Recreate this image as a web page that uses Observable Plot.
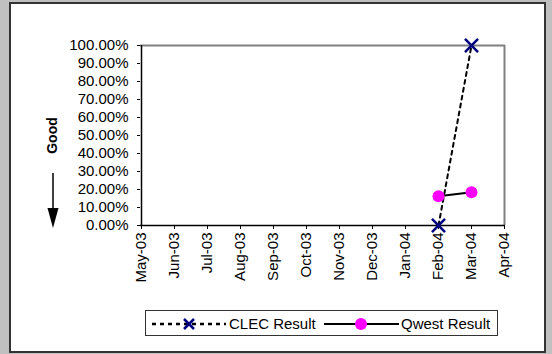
<!DOCTYPE html>
<html><head><meta charset="utf-8">
<script src="https://cdn.jsdelivr.net/npm/d3@7"></script>
<script src="https://cdn.jsdelivr.net/npm/@observablehq/plot@0.6"></script>
<style>
body{margin:0;background:#c0c0c0;}
#wrap{position:relative;width:552px;height:354px;background:#c0c0c0;overflow:hidden;font-family:"Liberation Sans",Arial,sans-serif;}
#panel{position:absolute;left:9px;top:2px;width:533px;height:347px;background:#fff;border:2px solid #333;}
#chart{position:absolute;left:0;top:0;}
#deco{position:absolute;left:0;top:0;}
#legend{position:absolute;left:145px;top:310px;width:351px;height:24px;border:1px solid #333;background:#fff;}
</style>
</head><body>
<div id="wrap"><div id="panel"></div><div id="chart"></div><svg id="deco" width="552" height="354"></svg><div id="legend"></div></div>
<script>
const monthLabels = ["May-03","Jun-03","Jul-03","Aug-03","Sep-03","Oct-03","Nov-03","Dec-03","Jan-04","Feb-04","Mar-04","Apr-04"];
const yTicks = [0,0.1,0.2,0.3,0.4,0.5,0.6,0.7,0.8,0.9,1.0];
const clecMonths = ["Feb-04","Mar-04"];
const clecValues = [0.0, 1.0];
const qwestMonths = ["Feb-04","Mar-04"];
const qwestValues = [0.163, 0.185];
const seriesNames = ["CLEC Result","Qwest Result"];
const axisTitle = "Good";

const clec = clecMonths.map((m,i)=>({month:m, value:clecValues[i]}));
const qwest = qwestMonths.map((m,i)=>({month:m, value:qwestValues[i]}));

const font = "Liberation Sans, Arial, sans-serif";
const chart = Plot.plot({
  width: 552, height: 354,
  marginLeft: 140, marginRight: 47, marginTop: 45, marginBottom: 129,
  style: {background:"transparent", fontFamily: font, fontSize:"15px", color:"#000"},
  x: {type:"point", domain: monthLabels, padding: 0, label: null, tickRotate: -90, tickSize: 4, tickPadding: 3},
  y: {domain:[0,1], ticks: yTicks, tickFormat: d3.format(".2%"), label: null, tickSize: 3, tickPadding: 9},
  marks: [
    Plot.ruleY([1], {stroke:"#808080", strokeWidth:2}),
    Plot.ruleX([monthLabels[monthLabels.length-1]], {stroke:"#808080", strokeWidth:2}),
    Plot.ruleX([monthLabels[0]], {stroke:"#000", strokeWidth:1.5}),
    Plot.ruleY([0], {stroke:"#000", strokeWidth:1.5}),
    Plot.line(clec, {x:"month", y:"value", stroke:"#000", strokeWidth:2, strokeDasharray:"4,4"}),
    Plot.line(qwest, {x:"month", y:"value", stroke:"#000", strokeWidth:2}),
    Plot.dot(qwest, {x:"month", y:"value", fill:"#ff00ff", r:6}),
    Plot.dot(clec, {x:"month", y:"value", symbol:"times", stroke:"#000080", strokeWidth:2.5, r:6}),
    Plot.text([axisTitle], {frameAnchor:"left", textAnchor:"middle", dx:-88, rotate:-90, fontWeight:"bold", fontSize:14, fill:"#000"})
  ]
});
document.getElementById("chart").appendChild(chart);

// arrow beside the "Good" label
const deco = d3.select("#deco");
deco.append("line").attr("x1",53).attr("x2",53).attr("y1",173).attr("y2",209).attr("stroke","#000").attr("stroke-width",1.5);
deco.append("path").attr("d","M47.5,208L58.5,208L53,228Z").attr("fill","#000");

// legend
const lg = d3.select("#legend").append("svg").attr("width",351).attr("height",24).style("font-family",font);
lg.append("line").attr("x1",6).attr("x2",80).attr("y1",13).attr("y2",13).attr("stroke","#000").attr("stroke-width",2.5).attr("stroke-dasharray","4,4");
lg.append("path").attr("d","M38,8L48,18M48,8L38,18").attr("stroke","#000080").attr("stroke-width",2.5);
lg.append("text").attr("x",83).attr("y",18).attr("font-size",15).text(seriesNames[0]);
lg.append("line").attr("x1",178).attr("x2",253).attr("y1",13).attr("y2",13).attr("stroke","#000").attr("stroke-width",2);
lg.append("circle").attr("cx",215).attr("cy",13).attr("r",6).attr("fill","#ff00ff");
lg.append("text").attr("x",255).attr("y",18).attr("font-size",15).text(seriesNames[1]);
</script>
</body></html>
